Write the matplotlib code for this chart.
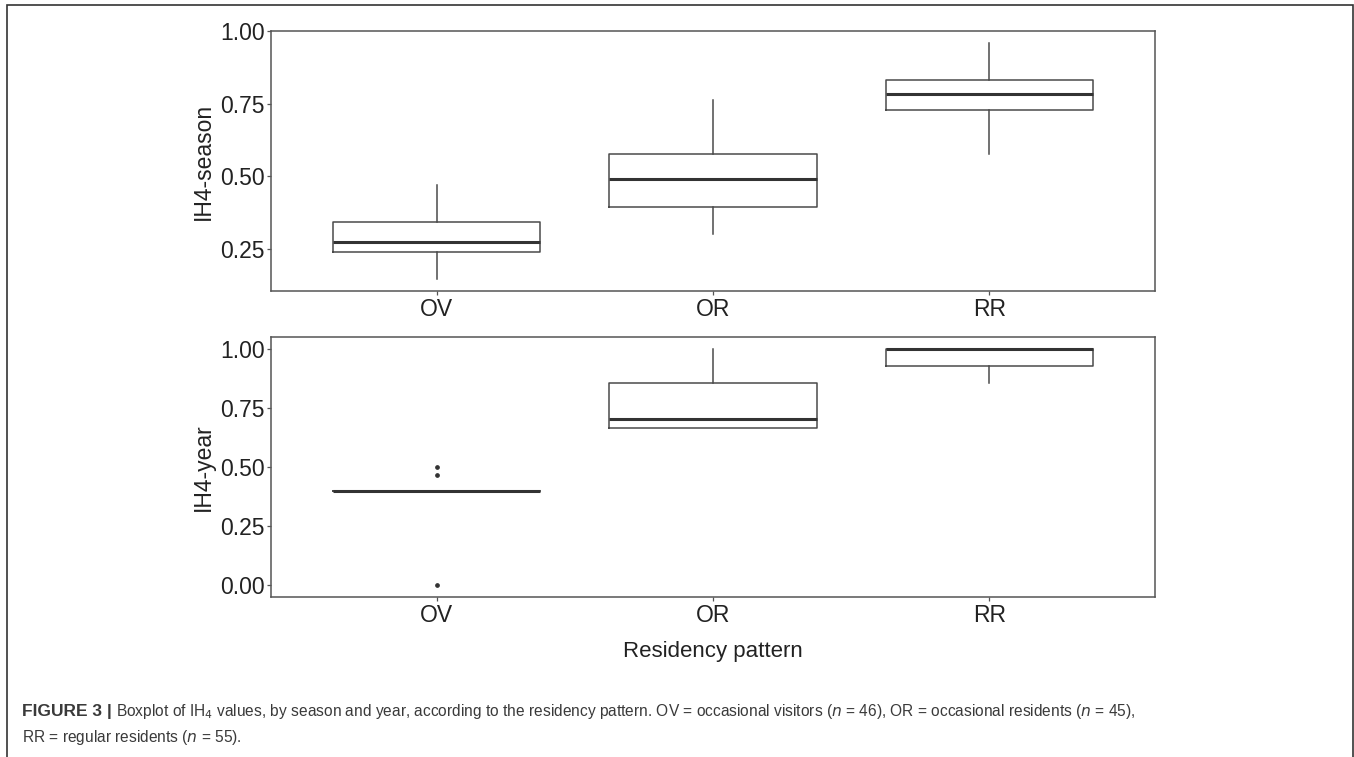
import matplotlib
matplotlib.use("Agg")
import matplotlib.pyplot as plt
from matplotlib.patches import Rectangle

plt.rcParams["font.family"] = ["Liberation Sans", "DejaVu Sans"]
plt.rcParams["mathtext.fontset"] = "custom"
plt.rcParams["mathtext.rm"] = "Liberation Sans Narrow"
plt.rcParams["mathtext.it"] = "Liberation Sans Narrow:italic"

categories = ["OV", "OR", "RR"]

# IH4 by season: whisker low, Q1, median, Q3, whisker high
season_wlo = [0.146, 0.300, 0.576]
season_q1 = [0.238, 0.395, 0.727]
season_med = [0.275, 0.490, 0.782]
season_q3 = [0.342, 0.575, 0.830]
season_whi = [0.469, 0.762, 0.959]
season_out = [[], [], []]

# IH4 by year
year_wlo = [0.400, 0.667, 0.857]
year_q1 = [0.400, 0.667, 0.929]
year_med = [0.400, 0.705, 1.000]
year_q3 = [0.400, 0.857, 1.000]
year_whi = [0.400, 1.000, 1.000]
year_out = [[0.500, 0.467, 0.000], [], []]

W, H = 1354, 757
fig = plt.figure(figsize=(W / 100, H / 100), dpi=100)

# outer frame of the figure panel
fig.patches.append(Rectangle((7 / W, -0.01), (1353 - 7) / W, 1 - 5 / H + 0.01,
                             transform=fig.transFigure, fill=False,
                             edgecolor="#333333", linewidth=1.2))


def stats(wlo, q1, med, q3, whi, out):
    return [dict(whislo=a, q1=b, med=c, q3=d, whishi=e, fliers=f)
            for a, b, c, d, e, f in zip(wlo, q1, med, q3, whi, out)]


def panel(rect, st, ylabel, ylim):
    ax = fig.add_axes(rect)
    ax.bxp(st, positions=[1, 2, 3], widths=0.75, showcaps=False,
           boxprops=dict(color="#4a4a4a", linewidth=1.1),
           whiskerprops=dict(color="#4a4a4a", linewidth=1.1),
           medianprops=dict(color="#333333", linewidth=2.2),
           flierprops=dict(marker="o", markersize=2.4, markerfacecolor="#333333",
                           markeredgecolor="#333333"))
    ax.set_xlim(0.4, 3.6)
    ax.set_ylim(*ylim)
    ax.set_xticks([1, 2, 3])
    ax.set_xticklabels(categories)
    for s in ax.spines.values():
        s.set_color("#555555")
        s.set_linewidth(1.1)
    ax.tick_params(length=3, width=0.9, color="#555555", labelsize=16.5,
                   labelcolor="#222222")
    ax.tick_params(axis="y", pad=1.5)
    ax.tick_params(axis="x", pad=2)
    ax.set_ylabel(ylabel, fontsize=16.5, color="#222222")
    ax.yaxis.set_label_coords(-0.063, 0.5)
    return ax


left, width = 270.7 / W, (1155.3 - 270.7) / W
ax1 = panel([left, 1 - 291.3 / H, width, (291.3 - 31) / H],
            stats(season_wlo, season_q1, season_med, season_q3, season_whi, season_out),
            "IH4-season", (0.1035, 1.0005))
ax1.set_yticks([0.25, 0.50, 0.75, 1.00])
ax1.set_yticklabels(["0.25", "0.50", "0.75", "1.00"])

ax2 = panel([left, 1 - 597.3 / H, width, (597.3 - 337.3) / H],
            stats(year_wlo, year_q1, year_med, year_q3, year_whi, year_out),
            "IH4-year", (-0.05, 1.05))
ax2.set_yticks([0.0, 0.25, 0.50, 0.75, 1.00])
ax2.set_yticklabels(["0.00", "0.25", "0.50", "0.75", "1.00"])

fig.text(713 / W, 1 - 652 / H, "Residency pattern", ha="center", va="center",
         fontsize=16, color="#222222")

# caption
cap_color = "#3a3a3a"
narrow = ["Liberation Sans Narrow", "Liberation Sans"]
x0, y1, y2 = 22 / W, 1 - 716 / H, 1 - 742 / H
t = fig.text(x0, y1, "FIGURE 3 |", fontweight="bold", fontsize=12.5,
             color=cap_color, va="baseline")
fig.canvas.draw()
bb = t.get_window_extent()
fig.text(bb.x1 / W + 4 / W, y1,
         r"Boxplot of IH$_{\mathrm{4}}$ values, by season and year, according to the residency "
         r"pattern. OV = occasional visitors ($\mathit{n}$ = 46), OR = occasional residents "
         r"($\mathit{n}$ = 45),",
         family=narrow, fontsize=11.2, color=cap_color, va="baseline")
fig.text(x0, y2, r"RR = regular residents ($\mathit{n}$ = 55).",
         family=narrow, fontsize=11.2, color=cap_color, va="baseline")

fig.savefig("out.png", dpi=100)
